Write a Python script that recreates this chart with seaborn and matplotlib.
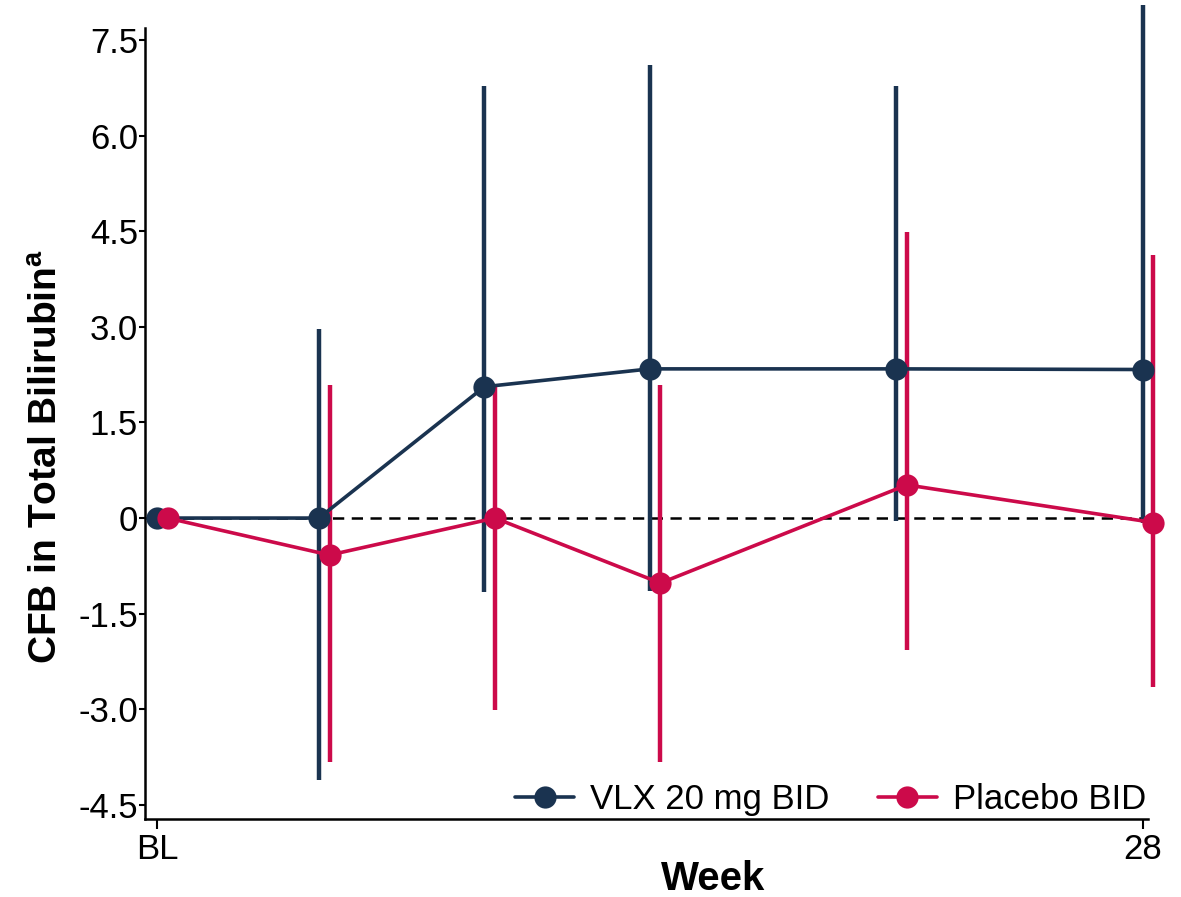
import numpy as np
import pandas as pd
import matplotlib
matplotlib.use("Agg")
import matplotlib.pyplot as plt
import seaborn as sns

# Data
weeks = [0, 4.6, 9.3, 14, 21, 28]
groups = ['VLX 20 mg BID', 'Placebo BID']

vlx_mean = [0.0, 0.0, 2.06, 2.34, 2.34, 2.33]
vlx_lo = [0.0, -4.11, -1.16, -1.15, -0.05, -0.08]
vlx_hi = [0.0, 2.97, 6.78, 7.10, 6.78, 8.05]

pbo_mean = [0.0, -0.58, 0.0, -1.02, 0.52, -0.07]
pbo_lo = [0.0, -3.83, -3.01, -3.83, -2.07, -2.65]
pbo_hi = [0.0, 2.09, 2.09, 2.09, 4.49, 4.13]

colors = {'VLX 20 mg BID': '#1a3350', 'Placebo BID': '#cc0a4a'}
offsets = {'VLX 20 mg BID': 0.0, 'Placebo BID': 0.3}

df = pd.concat([
    pd.DataFrame({'week': weeks, 'mean': vlx_mean, 'lo': vlx_lo, 'hi': vlx_hi, 'group': groups[0]}),
    pd.DataFrame({'week': weeks, 'mean': pbo_mean, 'lo': pbo_lo, 'hi': pbo_hi, 'group': groups[1]}),
], ignore_index=True)
df['xplot'] = df['week'] + df['group'].map(offsets)

sns.set_style('ticks')
plt.rcParams['font.family'] = ['Liberation Sans', 'DejaVu Sans']
plt.rcParams['text.color'] = 'black'
plt.rcParams['axes.labelcolor'] = 'black'
plt.rcParams['xtick.color'] = 'black'
plt.rcParams['ytick.color'] = 'black'
plt.rcParams['axes.edgecolor'] = 'black'

fig = plt.figure(figsize=(11.81, 8.97), dpi=100)
ax = fig.add_axes([0.1228, 0.087, 0.849, 0.882])

ax.axhline(0, color='black', ls=(0, (4.5, 3)), lw=1.8, zorder=1)

# error bars
for g in groups:
    sub = df[(df['group'] == g) & (df['week'] > 0)]
    ax.vlines(sub['xplot'], sub['lo'], sub['hi'], color=colors[g], lw=3.2,
              zorder=2, clip_on=False)

sns.lineplot(data=df, x='xplot', y='mean', hue='group', palette=colors,
             marker='o', markersize=16, markeredgewidth=0, linewidth=2.6,
             ax=ax, zorder=3, clip_on=False, legend=True)

ax.set_xlim(-0.34, 28.14)
ax.set_ylim(-4.72, 7.69)
ax.set_xticks([0, 28])
ax.set_xticklabels(['BL', '28'])
ax.set_yticks([-4.5, -3.0, -1.5, 0, 1.5, 3.0, 4.5, 6.0, 7.5])
ax.set_yticklabels(['-4.5', '-3.0', '-1.5', '0', '1.5', '3.0', '4.5', '6.0', '7.5'])
ax.tick_params(axis='y', labelsize=25, width=1.5, length=4, pad=1)
ax.tick_params(axis='x', labelsize=25, width=1.5, length=7, pad=3)
for s in ['left', 'bottom']:
    ax.spines[s].set_linewidth(1.8)
sns.despine(ax=ax)

ax.set_xlabel('Week', fontsize=29, fontweight='bold')
ax.xaxis.set_label_coords(0.567, -0.052)
ax.set_ylabel('CFB in Total Bilirubin$^{\\mathregular{a}}$', fontsize=28,
              fontweight='bold')
ax.yaxis.set_label_coords(-0.080, 0.458)

leg = ax.legend(loc='lower right', ncol=2, frameon=False,
                handlelength=1.7, columnspacing=1.4, handletextpad=0.45,
                borderaxespad=0.0, bbox_to_anchor=(1.012, -0.014),
                prop={'family': ['Liberation Sans', 'DejaVu Sans'], 'size': 25})

fig.savefig('out.png', dpi=100)
